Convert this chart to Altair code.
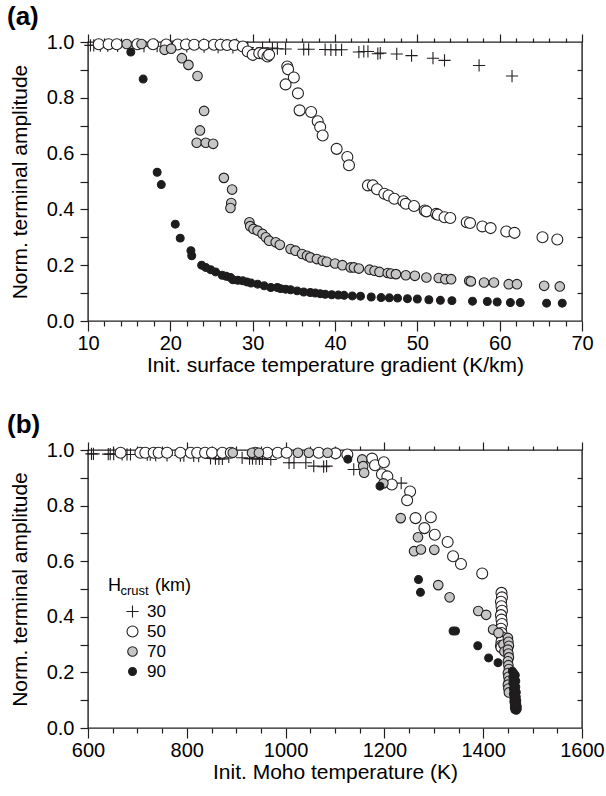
import altair as alt
import pandas as pd

H_LABELS = ["30", "50", "70", "90"]

# ---------------- Panel (a): Init. surface temperature gradient (K/km) ----------------
a30_x = [10.3, 10.7, 11.5, 12.4, 13.6, 15.0, 16.8, 18.4, 20.2, 22.0,
         24.1, 25.8, 27.6, 29.4, 31.2, 32.4, 33.0, 34.0, 36.2, 36.8,
         38.8, 39.5, 40.1, 40.8, 42.9, 43.5, 44.0, 45.2, 45.5, 47.5,
         49.3, 51.9, 53.3, 57.5, 61.5]
a30_y = [.988, .988, .987, .987, .986, .986, .985, .985, .984, .984,
         .983, .982, .981, .980, .979, .978, .976, .975, .974, .974,
         .973, .972, .972, .972, .964, .966, .966, .958, .960, .957,
         .951, .942, .934, .916, .878]

a50_x = [11.3, 12.5, 13.5, 16.0, 17.9, 19.5, 20.9, 21.9, 22.9, 24.1,
         25.3, 26.1, 26.9, 27.8, 28.8, 29.4, 30.0, 30.8, 31.3, 31.8,
         32.0, 34.2, 34.3, 35.0, 34.0, 35.5, 35.7, 37.1, 37.9, 38.2,
         38.5, 40.2, 41.5, 41.7, 44.0, 44.6, 45.1, 46.0, 46.5, 47.2,
         48.3, 48.6, 49.6, 50.9, 51.1, 52.3, 52.5, 53.3, 54.0, 56.0,
         56.4, 57.9, 58.9, 60.8, 61.8, 65.2, 67.0]
a50_y = [.992, .992, .992, .992, .992, .991, .991, .991, .990, .990,
         .990, .990, .989, .989, .984, .966, .954, .960, .958, .948,
         .954, .912, .902, .873, .848, .816, .755, .749, .716, .695,
         .665, .617, .588, .558, .486, .486, .472, .456, .450, .438,
         .429, .420, .412, .396, .393, .384, .381, .372, .369, .354,
         .351, .339, .333, .321, .316, .300, .292]

a70_x = [14.7, 16.5, 19.3, 20.1, 21.4, 22.2, 23.3, 24.1, 23.6, 23.2,
         24.3, 25.2, 26.5, 27.5, 27.4, 27.3, 29.6, 29.7, 30.1, 30.6,
         31.2, 31.6, 32.0, 32.8, 33.3, 34.6, 35.2, 36.0, 36.6, 37.0,
         37.8, 38.5, 39.0, 40.0, 40.9, 41.9, 42.3, 42.9, 44.2, 44.8,
         45.4, 46.4, 46.8, 47.4, 48.6, 49.7, 51.1, 52.6, 53.4, 54.1,
         56.3, 56.5, 58.1, 59.3, 61.1, 62.1, 65.4, 67.3]
a70_y = [.993, .993, .972, .976, .942, .918, .878, .753, .683, .639,
         .639, .635, .513, .471, .423, .405, .354, .340, .330, .324,
         .312, .300, .288, .282, .273, .258, .252, .240, .234, .228,
         .222, .216, .212, .206, .200, .192, .192, .188, .184, .180,
         .176, .172, .170, .168, .164, .162, .156, .154, .150, .150,
         .144, .142, .138, .138, .132, .132, .126, .124]

a90_x = [15.2, 16.7, 18.4, 18.9, 20.6, 21.2, 22.5, 22.6, 23.8, 24.3,
         24.9, 25.5, 26.3, 26.8, 27.3, 27.6, 28.2, 28.8, 29.3, 29.8,
         30.6, 31.4, 32.2, 33.0, 33.4, 34.0, 34.6, 35.4, 36.2, 37.0,
         37.6, 38.2, 38.8, 39.6, 40.4, 41.1, 42.1, 43.1, 44.4, 45.6,
         46.6, 47.6, 48.8, 50.0, 51.4, 52.8, 54.2, 56.7, 58.5, 59.7,
         61.3, 62.5, 65.7, 67.6]
a90_y = [.964, .867, .533, .489, .347, .297, .252, .234, .200, .192,
         .184, .176, .164, .160, .156, .148, .146, .144, .140, .136,
         .132, .126, .120, .120, .116, .114, .112, .108, .104, .102,
         .100, .098, .096, .094, .093, .092, .090, .089, .086, .084,
         .083, .082, .080, .079, .076, .074, .073, .071, .070, .068,
         .066, .066, .064, .064]

# ---------------- Panel (b): Init. Moho temperature (K) ----------------
b30_x = [607, 611, 641, 645, 652, 669, 679, 686, 720, 726,
         737, 760, 787, 794, 814, 824, 848, 858, 865, 872,
         885, 912, 927, 933, 940, 947, 953, 970, 1007, 1017,
         1041, 1057, 1077, 1083, 1138, 1234]
b30_y = [.986, .986, .985, .985, .985, .984, .984, .984, .983, .983,
         .982, .981, .980, .980, .979, .978, .970, .969, .968, .968,
         .975, .972, .969, .969, .969, .968, .968, .966, .954, .954,
         .954, .942, .940, .942, .930, .881]

b50_x = [666, 706, 716, 733, 743, 760, 787, 808, 821, 837,
         851, 872, 889, 939, 963, 984, 1002, 1067, 1101, 1125,
         1175, 1181, 1199, 1195, 1206, 1215, 1252, 1246, 1263, 1294,
         1281, 1302, 1328, 1339, 1355, 1398,
         1437, 1438, 1436, 1437, 1438, 1436, 1437, 1438, 1436, 1437,
         1438, 1437, 1436, 1437]
b50_y = [.990, .990, .990, .990, .990, .990, .990, .990, .990, .990,
         .990, .990, .990, .990, .990, .990, .990, .990, .988, .984,
         .969, .945, .956, .913, .905, .876, .851, .819, .755, .758,
         .719, .695, .669, .618, .590, .556,
         .486, .470, .454, .438, .422, .406, .390, .374, .357, .342,
         .326, .310, .296, .290]

b70_x = [893, 932, 946, 1025, 1047, 1085, 1155, 1157, 1159, 1198,
         1233, 1268, 1260, 1274, 1301, 1309, 1332, 1390, 1406, 1420,
         1431, 1441, 1443,
         1450, 1451, 1452, 1450, 1451, 1452, 1450, 1451, 1452, 1450,
         1451, 1452, 1450, 1451, 1452]
b70_y = [.990, .990, .990, .990, .990, .990, .966, .942, .918, .880,
         .755, .686, .636, .642, .641, .514, .470, .421, .407, .354,
         .342, .300, .275,
         .324, .310, .296, .282, .268, .254, .240, .226, .212, .198,
         .184, .170, .156, .142, .128]

b90_x = [1126, 1191, 1269, 1273, 1339, 1344, 1389, 1411, 1430,
         1459, 1462, 1465, 1460, 1463, 1466, 1460, 1463, 1466, 1461,
         1464, 1467, 1461, 1464, 1467, 1462, 1465, 1468, 1462, 1465,
         1468, 1463, 1466, 1469, 1463, 1466, 1469, 1464, 1467]
b90_y = [.967, .870, .534, .488, .349, .349, .296, .252, .235,
         .204, .197, .190, .183, .176, .169, .162, .155, .148, .141,
         .135, .129, .123, .117, .112, .107, .102, .098, .094, .090,
         .086, .083, .080, .077, .074, .071, .068, .066, .064]

Y_TICKS = [0.0, 0.1, 0.2, 0.3, 0.4, 0.5, 0.6, 0.7, 0.8, 0.9, 1.0]
Y_INNER = [0.1, 0.2, 0.3, 0.4, 0.5, 0.6, 0.7, 0.8, 0.9]
XA_TICKS = list(range(10, 71, 2))
XB_TICKS = list(range(600, 1601, 50))


def table(xs_list, ys_list):
    rows = []
    for h, xs, ys in zip(H_LABELS, xs_list, ys_list):
        for x, y in zip(xs, ys):
            rows.append({"x": x, "y": y, "H": h})
    return pd.DataFrame(rows)


df_a = table([a30_x, a50_x, a70_x, a90_x], [a30_y, a50_y, a70_y, a90_y])
df_b = table([b30_x, b50_x, b70_x, b90_x], [b30_y, b50_y, b70_y, b90_y])

W = 494
HA = 279
HB = 278
INK = "#231f20"
FONT = "Liberation Sans"

PLUS = "M-1,0L1,0M0,-1L0,1"


def panel(df, xdom, xticks, major, xtitle, tag, h, show_legend):
    xs = alt.Scale(domain=xdom, nice=False, zero=False)
    ys = alt.Scale(domain=[0, 1], nice=False)
    major_test = f"datum.value % {major} === 0"
    x_axis = alt.Axis(values=xticks, title=xtitle, format="d", labelFlush=False,
                      labelExpr=f"{major_test} ? datum.label : ''",
                      tickSize={"condition": {"test": major_test, "value": 10}, "value": 5},
                      labelPadding=2, titlePadding=1, domain=False, grid=False)
    y_axis = alt.Axis(values=Y_TICKS, title="Norm. terminal amplitude", labelFlush=False,
                      labelExpr="round(datum.value*10) % 2 === 0 ? format(datum.value, '.1f') : ''",
                      tickSize=8, labelPadding=6, titlePadding=16, domain=False, grid=False)
    if show_legend:
        leg = alt.Legend(orient="none", legendX=36, legendY=153, title=None,
                         labelFontSize=17, labelFont=FONT, labelColor="black",
                         labelOffset=6, rowPadding=2, padding=0,
                         symbolStrokeWidth=1.1, symbolOpacity=1)
    else:
        leg = None
    pts = alt.Chart(df).mark_point(filled=True, strokeWidth=1.1, opacity=1).encode(
        x=alt.X("x:Q", scale=xs, axis=x_axis),
        y=alt.Y("y:Q", scale=ys, axis=y_axis),
        shape=alt.Shape("H:N", scale=alt.Scale(domain=H_LABELS, range=[PLUS, "circle", "circle", "circle"]), legend=leg),
        fill=alt.Fill("H:N", scale=alt.Scale(domain=H_LABELS, range=["transparent", "#ffffff", "#c6c6c6", "#1c1c1c"]), legend=leg),
        stroke=alt.Stroke("H:N", scale=alt.Scale(domain=H_LABELS, range=[INK, INK, INK, INK]), legend=leg),
        size=alt.Size("H:N", scale=alt.Scale(domain=H_LABELS, range=[150, 62, 62, 88]), legend=leg),
        order=alt.Order("H:N"),
    )
    frame = alt.Chart(df).mark_point(opacity=0).encode(
        x=alt.X("x:Q", scale=xs, axis=alt.Axis(orient="top", values=xticks, labels=False, title=None,
                                                tickSize={"condition": {"test": major_test, "value": 8}, "value": 4},
                                                domain=False, grid=False)),
        y=alt.Y("y:Q", scale=ys, axis=alt.Axis(orient="left", offset=-W, values=Y_INNER, labels=False,
                                                title=None, tickSize=5, domain=False, grid=False)),
    )
    label = alt.Chart(pd.DataFrame({"t": [tag]})).mark_text(
        align="left", baseline="alphabetic", fontSize=26, fontWeight="bold", font=FONT, color="black"
    ).encode(text="t:N", x=alt.value(-81), y=alt.value(-17))
    layers = [pts, frame, label]
    if show_legend:
        ht = alt.Chart(pd.DataFrame({"t": ["H"]})).mark_text(
            align="left", baseline="alphabetic", fontSize=18, font=FONT, color="black"
        ).encode(text="t:N", x=alt.value(20), y=alt.value(141))
        st = alt.Chart(pd.DataFrame({"t": ["crust"]})).mark_text(
            align="left", baseline="alphabetic", fontSize=13, font=FONT, color="black"
        ).encode(text="t:N", x=alt.value(32.5), y=alt.value(145))
        kt = alt.Chart(pd.DataFrame({"t": ["(km)"]})).mark_text(
            align="left", baseline="alphabetic", fontSize=18, font=FONT, color="black"
        ).encode(text="t:N", x=alt.value(67), y=alt.value(141))
        layers += [ht, st, kt]
    return alt.layer(*layers).resolve_axis(x="independent", y="independent").properties(width=W, height=h)


pa = panel(df_a, [10, 70], XA_TICKS, 10, "Init. surface temperature gradient (K/km)", "(a)", HA, False)
pb = panel(df_b, [600, 1600], XB_TICKS, 200, "Init. Moho temperature (K)", "(b)", HB, True)

chart = alt.vconcat(pa, pb, spacing=35).resolve_legend(
    shape="independent", fill="independent", size="independent", stroke="independent"
).properties(
    padding={"left": 6, "top": 3, "right": 0, "bottom": 2}
).configure(font=FONT).configure_view(
    stroke=INK, strokeWidth=1.4
).configure_axis(
    labelFont=FONT, titleFont=FONT, labelFontSize=20, titleFontSize=21,
    labelColor="black", titleColor="black", titleFontWeight="normal",
    tickColor=INK, tickWidth=1.2
)

chart.save("out.html", embed_options={"renderer": "svg", "actions": False})
